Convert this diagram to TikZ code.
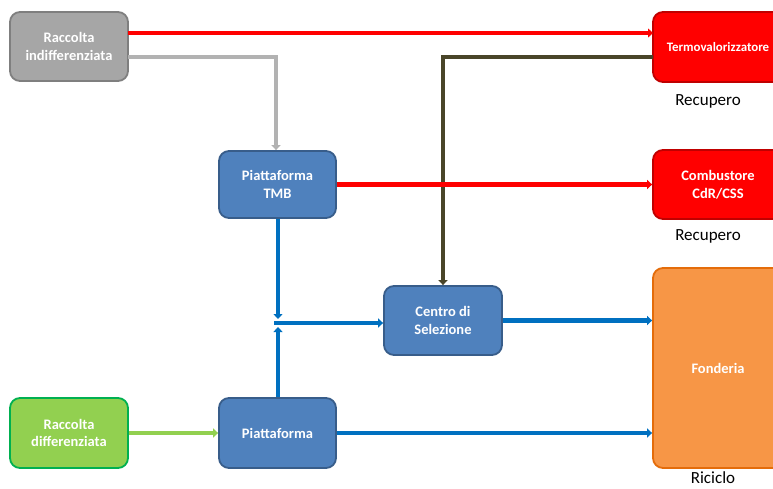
\documentclass[tikz,border=0pt]{standalone}
\usepackage{fontspec}
\setmainfont{Carlito}
\usetikzlibrary{arrows.meta,calc}
\definecolor{gfill}{RGB}{166,166,166}
\definecolor{gdraw}{RGB}{127,127,127}
\definecolor{glin}{RGB}{178,178,178}
\definecolor{bfill}{RGB}{79,129,189}
\definecolor{bdraw}{RGB}{56,93,138}
\definecolor{blin}{RGB}{0,112,192}
\definecolor{rfill}{RGB}{255,0,0}
\definecolor{rdraw}{RGB}{192,0,0}
\definecolor{grfill}{RGB}{146,208,80}
\definecolor{grdraw}{RGB}{0,176,80}
\definecolor{ofill}{RGB}{247,150,70}
\definecolor{odraw}{RGB}{228,108,10}
\definecolor{olive}{RGB}{73,69,41}
\tikzset{
  box/.style={rectangle, rounded corners=10pt, line width=1.8pt, align=center,
    text=white, font=\fontsize{14.5}{17.5}\selectfont\bfseries, inner sep=0pt},
  graybox/.style={box, fill=gfill, draw=gdraw},
  bluebox/.style={box, fill=bfill, draw=bdraw},
  redbox/.style={box, fill=rfill, draw=rdraw},
  greenbox/.style={box, fill=grfill, draw=grdraw},
  orangebox/.style={box, fill=ofill, draw=odraw},
  conn/.style={line width=4.2pt, -{Triangle[length=5pt,width=9pt]}},
  lbl/.style={font=\fontsize{17}{19}\selectfont, text=black}
}
\begin{document}
\begin{tikzpicture}[x=1pt,y=-1pt]
\useasboundingbox (0,0) rectangle (773,488);
\clip (0,0) rectangle (773,488);
% nodes
\node[graybox, minimum width=118pt, minimum height=69pt] (rin) at (69,46.5) {Raccolta\\indifferenziata};
\node[redbox, minimum width=130pt, minimum height=70pt, font=\fontsize{12.9}{15}\selectfont\bfseries] (ter) at (718,47) {Termovalorizzatore};
\node[bluebox, minimum width=117pt, minimum height=67pt] (tmb) at (277.5,184.5) {Piattaforma\\TMB};
\node[redbox, minimum width=130pt, minimum height=69pt] (com) at (718,184.5) {Combustore\\CdR/CSS};
\node[bluebox, minimum width=118pt, minimum height=69pt] (cen) at (443,320.5) {Centro di\\Selezione};
\node[orangebox, minimum width=130pt, minimum height=200pt] (fon) at (718,368) {Fonderia};
\node[greenbox, minimum width=118pt, minimum height=70pt] (rdi) at (69,433) {Raccolta\\differenziata};
\node[bluebox, minimum width=117pt, minimum height=70pt] (pia) at (277.5,433) {Piattaforma};
% labels
\node[lbl] (l1) at (708,101) {Recupero};
\node[lbl] (l2) at (708,236) {Recupero};
\node[lbl] (l3) at (713,478) {Riciclo};
% helper coordinates
\coordinate (a1) at (128,33);
\coordinate (a2) at (653,33);
\coordinate (g1) at (128,57);
\coordinate (g2) at (276,57);
\coordinate (o1) at (653,57);
\coordinate (o2) at (443,57);
\coordinate (jd) at (278,319);
\coordinate (ju) at (278,327);
\coordinate (jh) at (274,323);
% connectors
\draw[conn, color=rfill] (a1) -- (a2);
\draw[conn, color=glin] (g1) -- (g2) -- (g2 |- tmb.north);
\draw[conn, color=olive] (o1) -- (o2) -- (cen.north);
\draw[conn, color=rfill] (tmb.east) -- (com.west);
\draw[conn, color=blin] (tmb.south -| jd) -- (jd);
\draw[conn, color=blin] (pia.north -| ju) -- (ju);
\draw[conn, color=blin] (jh) -- (jh -| cen.west);
\draw[conn, color=blin] (cen.east) -- (cen.east -| fon.west);
\draw[conn, color=blin] (pia.east) -- (pia.east -| fon.west);
\draw[conn, color=grfill] (rdi.east) -- (pia.west);
\end{tikzpicture}
\end{document}
